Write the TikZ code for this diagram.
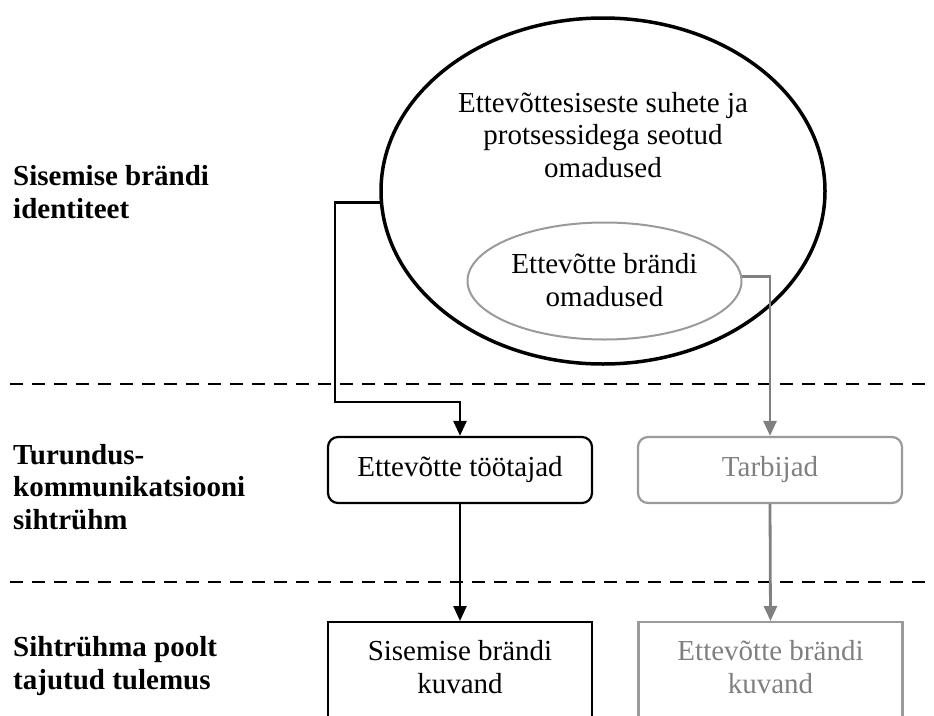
\documentclass[tikz,border=0pt]{standalone}
\usepackage{fontspec}
\setmainfont{Liberation Serif}
\usetikzlibrary{shapes.geometric,arrows.meta}
\definecolor{midgray}{HTML}{808080}
\definecolor{lightgray}{HTML}{9A9A9A}
\begin{document}
\begin{tikzpicture}[x=1pt,y=-1pt,
  txt/.style={font=\fontsize{29}{32.5}\selectfont, align=center, inner sep=0pt},
  rowlabel/.style={font=\fontsize{29}{32.5}\selectfont\bfseries, align=left, inner sep=0pt, anchor=west},
  bigoval/.style={ellipse, draw=black, line width=3.5pt, inner sep=0pt},
  smalloval/.style={ellipse, draw=lightgray, line width=2pt, inner sep=0pt},
  roundbox/.style={rectangle, rounded corners=10pt, line width=2.2pt, minimum width=264pt, minimum height=66pt, inner sep=0pt},
  squarebox/.style={rectangle, line width=2.2pt, minimum width=264pt, minimum height=130pt, inner sep=0pt, anchor=north},
  linkblack/.style={draw=black, line width=2.5pt, -{Triangle[length=15pt,width=13pt]}},
  linkgray/.style={draw=midgray, line width=2.8pt, -{Triangle[length=15pt,width=13pt]}},
  divider/.style={draw=black, line width=2.4pt, dash pattern=on 13pt off 9pt}]

\useasboundingbox (0,0) rectangle (934,715);
\clip (0,0) rectangle (934,715);

% row dividers
\coordinate (d1a) at (10,384);
\coordinate (d1b) at (934,384);
\coordinate (d2a) at (10,582);
\coordinate (d2b) at (934,582);
\draw[divider] (d1a) -- (d1b);
\draw[divider] (d2a) -- (d2b);

% row labels
\node[rowlabel] (lab1) at (13,192) {Sisemise brändi\\identiteet};
\node[rowlabel] (lab2) at (13,487) {Turundus-\\kommunikatsiooni\\sihtrühm};
\node[rowlabel] (lab3) at (13,666) {Sihtrühma poolt\\tajutud tulemus};

% identity ovals
\node[bigoval, minimum width=444pt, minimum height=346pt] (big) at (603,191) {};
\node[txt] (bigtext) at (603,135) {Ettevõttesiseste suhete ja\\protsessidega seotud\\omadused};
\node[smalloval, minimum width=274pt, minimum height=117pt] (inner) at (604.5,281) {};
\node[txt] (innertext) at (604.5,280) {Ettevõtte brändi\\omadused};

% target groups
\node[roundbox, draw=black] (emp) at (460,470) {};
\node[txt] (emptext) at (460,470) {Ettevõtte töötajad};
\node[roundbox, draw=lightgray] (cons) at (770,470) {};
\node[txt, text=midgray] (constext) at (770,470) {Tarbijad};

% perceived results
\node[squarebox, draw=black] (res1) at (460,621) {};
\node[txt] (res1text) at (460,667) {Sisemise brändi\\kuvand};
\node[squarebox, draw=lightgray] (res2) at (770.5,621) {};
\node[txt, text=midgray] (res2text) at (770.5,667) {Ettevõtte brändi\\kuvand};

% connectors
\coordinate (bend) at (335,402);
\draw[linkblack] (big.183.6) -| (bend) -| (emp.north);
\draw[linkblack] (emp.south) -- (res1.north);
\draw[linkgray] (inner.2) -| (cons.north);
\draw[linkgray] (cons.south) -- (res2.north);
\end{tikzpicture}
\end{document}
